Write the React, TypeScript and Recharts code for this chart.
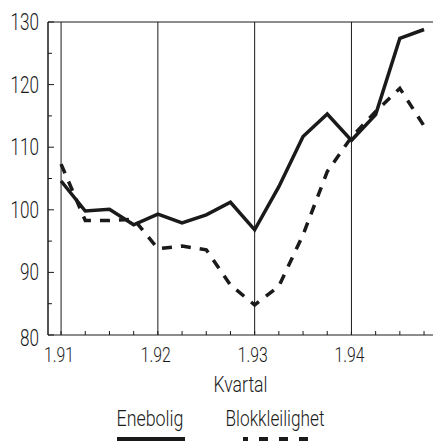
import { LineChart, Line, XAxis, YAxis, ReferenceLine, Legend, Label } from "recharts"

const quarters = [
  "1.91", "2.91", "3.91", "4.91",
  "1.92", "2.92", "3.92", "4.92",
  "1.93", "2.93", "3.93", "4.93",
  "1.94", "2.94", "3.94", "4.94",
]
const enebolig = [104.6, 99.8, 100.1, 97.6, 99.3, 97.9, 99.2, 101.2, 96.8, 103.7, 111.7, 115.3, 111.1, 115.2, 127.4, 128.8]
const blokkleilighet = [107.3, 98.3, 98.3, 98.5, 93.8, 94.2, 93.6, 88.0, 84.8, 87.8, 96.0, 106.1, 111.6, 115.7, 119.4, 113.4]
const yTicks = [80, 85, 90, 95, 100, 105, 110, 115, 120, 125, 130]
const yearStarts = ["1.91", "1.92", "1.93", "1.94"]

const data = quarters.map((q, i) => ({
  idx: i,
  label: q,
  enebolig: enebolig[i],
  blokkleilighet: blokkleilighet[i],
}))

const FONT = "Roboto, 'Liberation Sans', sans-serif"
const INK = "#1a1a1a"

// narrow condensed look: squeeze text to the widths seen in the scan
function NarrowText({ x, y, anchor, width, size = 22, children }: any) {
  return (
    <text
      x={x}
      y={y}
      textAnchor={anchor}
      fontSize={size}
      fontWeight={300}
      fill={INK}
      fontFamily={FONT}
      textLength={width}
      lengthAdjust="spacingAndGlyphs"
    >
      {children}
    </text>
  )
}

function XTick(props: any) {
  const { x, y, payload } = props
  const q = quarters[payload.value]
  const isYear = yearStarts.includes(q)
  return (
    <g>
      <line x1={x} y1={y} x2={x} y2={y - 4} stroke={INK} strokeWidth={1} />
      {isYear && (
        <NarrowText x={x - 2} y={y + 27} anchor="middle" width={30} size={21}>
          {q}
        </NarrowText>
      )}
    </g>
  )
}

function YTick(props: any) {
  const { x, y, payload } = props
  const major = payload.value % 10 === 0
  const s = String(payload.value)
  return (
    <g>
      <line x1={x} y1={y} x2={x + (major ? 6 : 4)} y2={y} stroke={INK} strokeWidth={1} />
      {major && (
        <NarrowText
          x={x - 9}
          y={y + 8 + (payload.value === 80 ? 3 : 0)}
          anchor="end"
          width={s.length * 9.5}
          size={23}
        >
          {s}
        </NarrowText>
      )}
    </g>
  )
}

function AxisTitle(props: any) {
  const { viewBox } = props
  const cx = viewBox.x + viewBox.width / 2
  return (
    <NarrowText x={cx} y={viewBox.y + 57} anchor="middle" width={54}>
      Kvartal
    </NarrowText>
  )
}

function LegendBox() {
  return (
    <svg width={433} height={49} style={{ display: "block" }}>
      <NarrowText x={150} y={28} anchor="middle" width={67}>
        Enebolig
      </NarrowText>
      <line x1={117} y1={41} x2={185} y2={41} stroke={INK} strokeWidth={4} />
      <NarrowText x={275} y={28} anchor="middle" width={99}>
        Blokkleilighet
      </NarrowText>
      <line
        x1={243}
        y1={41}
        x2={312}
        y2={41}
        stroke={INK}
        strokeWidth={4}
        strokeDasharray="9 11"
        strokeDashoffset={4}
      />
    </svg>
  )
}

export default function App() {
  return (
    <div style={{ position: "absolute", left: 0, top: 0, width: 433, height: 447, background: "#fff" }}>
      <LineChart width={433} height={447} data={data} margin={{ top: 22, right: 0, bottom: 0, left: 0 }}>
        <XAxis
          dataKey="idx"
          type="number"
          domain={[-0.54, 15.37]}
          ticks={quarters.map((_, i) => i)}
          allowDataOverflow
          height={112}
          tickSize={0}
          tickMargin={0}
          tick={<XTick />}
          axisLine={{ stroke: INK, strokeWidth: 1 }}
        >
          <Label content={<AxisTitle />} />
        </XAxis>
        <YAxis
          type="number"
          domain={[80, 130]}
          ticks={yTicks}
          allowDataOverflow
          width={48}
          tickSize={0}
          tickMargin={0}
          tick={<YTick />}
          axisLine={{ stroke: INK, strokeWidth: 1.5 }}
        />
        <ReferenceLine y={130} stroke={INK} strokeWidth={1} />
        {yearStarts.map((q) => (
          <ReferenceLine key={q} x={quarters.indexOf(q)} stroke={INK} strokeWidth={1} />
        ))}
        <Line
          type="linear"
          dataKey="enebolig"
          stroke={INK}
          strokeWidth={3.5}
          dot={false}
          isAnimationActive={false}
        />
        <Line
          type="linear"
          dataKey="blokkleilighet"
          stroke={INK}
          strokeWidth={3.5}
          strokeDasharray="10 9"
          dot={false}
          isAnimationActive={false}
        />
        <Legend
          layout="horizontal"
          verticalAlign="middle"
          align="center"
          content={<LegendBox />}
          wrapperStyle={{ top: 398, left: 0, width: 433, height: 49 }}
        />
      </LineChart>
    </div>
  )
}
